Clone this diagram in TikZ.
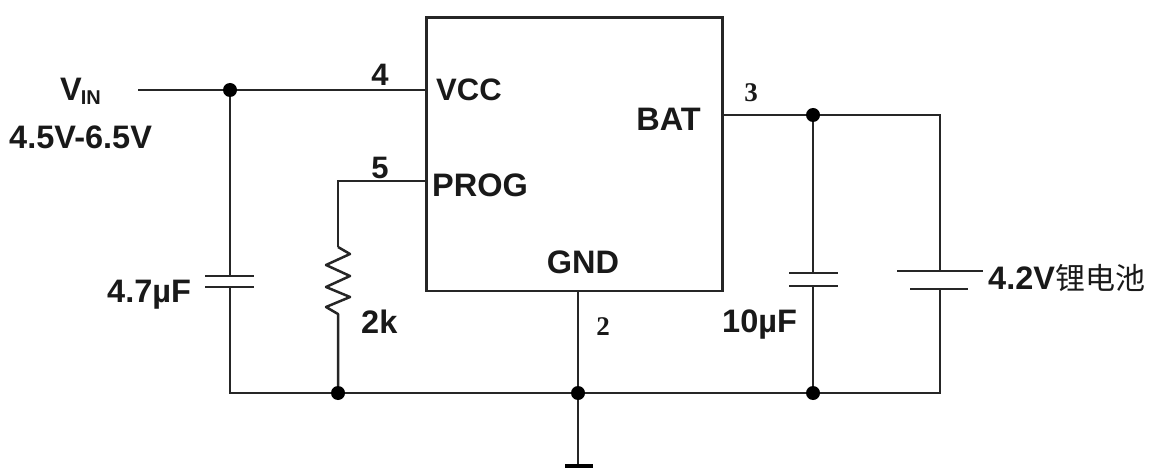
\documentclass[tikz,border=0pt]{standalone}
\usepackage{fontspec}
\setmainfont{Liberation Sans}
\newfontfamily\serifnum{Liberation Serif}
\newfontfamily\cjk{Noto Sans CJK SC}
\usetikzlibrary{calc}
\tikzset{
  wire/.style={draw=black!85,line width=2.5pt},
  plate/.style={draw=black!85,line width=2.7pt},
  dot/.style={circle,fill=black,inner sep=0pt,minimum size=14pt},
  lbl/.style={font=\fontsize{32.5}{34}\selectfont\bfseries,inner sep=0pt,text=black!90},
  pin/.style={font=\fontsize{27}{29}\selectfont\bfseries\serifnum,inner sep=0pt,text=black!90},
  pinb/.style={font=\fontsize{31}{33}\selectfont\bfseries,inner sep=0pt,text=black!90}
}
\begin{document}
\begin{tikzpicture}[x=1pt,y=-1pt]
\useasboundingbox (0,0) rectangle (1155,470);
% chip
\node[draw=black!85,line width=2.5pt,minimum width=296pt,minimum height=273pt,inner sep=0pt,anchor=north west] (chip) at (425,16.5) {};
% junctions
\node[dot] (j1) at (230,90) {};
\node[dot] (j2) at (813,115) {};
\node[dot] (j3) at (338,393) {};
\node[dot] (j4) at (578,393) {};
\node[dot] (j5) at (813,393) {};
\coordinate (vin) at (138,90);
\coordinate (vcc) at (425,90);
\coordinate (prog) at (425,181);
\coordinate (progc) at (338,181);
\coordinate (bat) at (722,115);
\coordinate (batc) at (940,115);
\coordinate (gnd) at (578,290);
\coordinate (gl) at (230,393);
\coordinate (gr) at (940,393);
\coordinate (earth) at (578,465);
% wires
\draw[wire] (vin) -- (j1) -- (vcc);
\draw[wire] (prog) -- (progc) -- (338,247);
\draw[wire,line join=round] (338,247) -- (350,254) -- (326,265) -- (350,276) -- (326,287) -- (350,297) -- (326,307) -- (338,314) -- (j3);
\draw[wire] (bat) -- (j2) -- (batc) -- (940,271);
\draw[wire] (gnd) -- (j4) -- (earth);
\draw[wire] (j1) -- (230,276);
\draw[wire] (230,287) -- (gl) -- (j3) -- (j4) -- (j5) -- (gr) -- (940,289);
\draw[wire] (j2) -- (813,273);
\draw[wire] (813,286) -- (j5);
% capacitor plates
\draw[plate] (205,276) -- (254,276);
\draw[plate] (205,287) -- (254,287);
\draw[plate] (789,273) -- (838,273);
\draw[plate] (789,286) -- (838,286);
\draw[plate] (897,271) -- (983,271);
\draw[plate] (910,289) -- (968,289);
% ground
\draw[black,line width=4.5pt] (565,466) -- (593,466);
% labels
\node[pinb,anchor=west] (tvcc) at (436,90) {VCC};
\node[lbl,anchor=west] (tprog) at (432,185) {PROG};
\node[lbl,anchor=east] (tbat) at (701,119) {BAT};
\node[lbl,anchor=center] (tgnd) at (583,262) {GND};
\node[pinb] (p4) at (380,75) {4};
\node[pinb] (p5) at (380,168) {5};
\node[pin] (p3) at (751,93) {3};
\node[pin] (p2) at (603,327) {2};
\node[lbl,anchor=west] (tvin) at (60,91) {V\kern-1pt\raisebox{-4pt}{\fontsize{20}{22}\selectfont IN}};
\node[lbl,anchor=west] (tv) at (9,137) {4.5V-6.5V};
\node[lbl,anchor=west] (tc1) at (107,295) {4.7µF};
\node[lbl,anchor=west] (tr) at (361,322) {2k};
\node[lbl,anchor=west] (tc2) at (722,325) {10µF};
\node[lbl,anchor=west] (tb) at (988,278) {4.2V{\cjk\fontsize{30}{32}\selectfont\mdseries 锂电池}};
\end{tikzpicture}
\end{document}
